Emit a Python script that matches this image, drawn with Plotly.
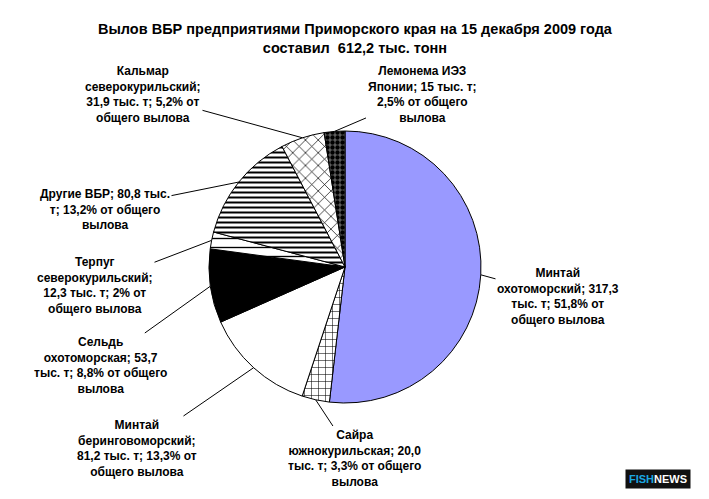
import math
import plotly.graph_objects as go

# Catch by species, thousand tonnes (clockwise from 12 o'clock)
species = [
    "Минтай охотоморский",
    "Сайра южнокурильская",
    "Минтай беринговоморский",
    "Сельдь охотоморская",
    "Терпуг северокурильский",
    "Другие ВБР",
    "Кальмар северокурильский",
    "Лемонема ИЭЗ Японии",
]
catch_kt = [317.3, 20.0, 81.2, 53.7, 12.3, 80.8, 31.9, 15.0]

label_texts = [
    "Минтай<br>охотоморский; 317,3<br>тыс. т; 51,8% от<br>общего вылова",
    "Сайра<br>южнокурильская; 20,0<br>тыс. т; 3,3% от общего<br>вылова",
    "Минтай<br>беринговоморский;<br>81,2 тыс. т; 13,3% от<br>общего вылова",
    "Сельдь<br>охотоморская; 53,7<br>тыс. т; 8,8% от общего<br>вылова",
    "Терпуг<br>северокурильский;<br>12,3 тыс. т; 2% от<br>общего вылова",
    "Другие ВБР; 80,8 тыс.<br>т; 13,2% от общего<br>вылова",
    "Кальмар<br>северокурильский;<br>31,9 тыс. т; 5,2% от<br>общего вылова",
    "Лемонема ИЭЗ<br>Японии; 15 тыс. т;<br>2,5% от общего<br>вылова",
]

# label box centres in pixels (from top-left)
label_pos = [(558, 296), (354, 458), (137, 448), (100, 365),
             (95, 285), (105, 209), (143, 94), (422, 94)]

W, H = 709, 499
CX, CY, R = 345, 267, 136   # pie centre / radius in pixels
FONT = "Liberation Sans, Arial"

fig = go.Figure()
fig.add_trace(go.Pie(
    labels=species,
    values=catch_kt,
    sort=False,
    direction="clockwise",
    rotation=0,
    textinfo="none",
    hoverinfo="label+value+percent",
    showlegend=False,
    domain=dict(x=[(CX - R) / W, (CX + R) / W],
                y=[(H - CY - R) / H, (H - CY + R) / H]),
    marker=dict(
        colors=["#9999ff", "white", "white", "black", "white", "white", "white", "white"],
        line=dict(color="black", width=1),
        pattern=dict(
            shape=["", "+", "", "", "-", "-", "x", "."],
            fgcolor=["black"] * 8,
            bgcolor=["#9999ff", "white", "white", "black", "white", "white", "white", "#606060"],
            size=[8, 7, 8, 8, 9, 5, 9, 5],
            solidity=[0.3, 0.15, 0.3, 0.3, 0.15, 0.4, 0.15, 0.6],
        ),
    ),
))

# leader lines + labels
total = sum(catch_kt)
cum = 0.0
for val, txt, (lx, ly) in zip(catch_kt, label_texts, label_pos):
    mid = (cum + val / 2) / total * 2 * math.pi
    cum += val
    tx = CX + R * math.sin(mid)
    ty = CY - R * math.cos(mid)
    fig.add_annotation(
        x=tx / W, y=1 - ty / H, xref="paper", yref="paper",
        ax=lx - tx, ay=ly - ty,
        text=f"<b>{txt}</b>", showarrow=True, arrowhead=0, arrowwidth=1,
        arrowcolor="black", standoff=0,
        font=dict(family=FONT, size=12, color="black"),
        align="center",
    )

total_txt = f"{total:.1f}".replace(".", ",")
fig.add_annotation(
    x=355 / W, y=1 - 39 / H, xref="paper", yref="paper",
    xanchor="center", yanchor="middle",
    text=f"<b>Вылов ВБР предприятиями Приморского края на 15 декабря 2009 года<br>составил  {total_txt} тыс. тонн</b>",
    showarrow=False, align="center",
    font=dict(family=FONT, size=14.5, color="black"),
)

# watermark
fig.add_annotation(
    x=658 / W, y=1 - 479 / H, xref="paper", yref="paper",
    xanchor="center", yanchor="middle",
    text="<b><span style='color:#1ba7e1'>FISH</span>NEWS</b>",
    showarrow=False, bgcolor="#111111", borderpad=3,
    font=dict(family=FONT, size=11, color="white"),
)

fig.update_layout(
    width=W, height=H,
    margin=dict(l=0, r=0, t=0, b=0),
    paper_bgcolor="white",
    plot_bgcolor="white",
)

fig.write_html("out.html", config={"displayModeBar": False},
               post_script="document.body.style.margin='0';")
